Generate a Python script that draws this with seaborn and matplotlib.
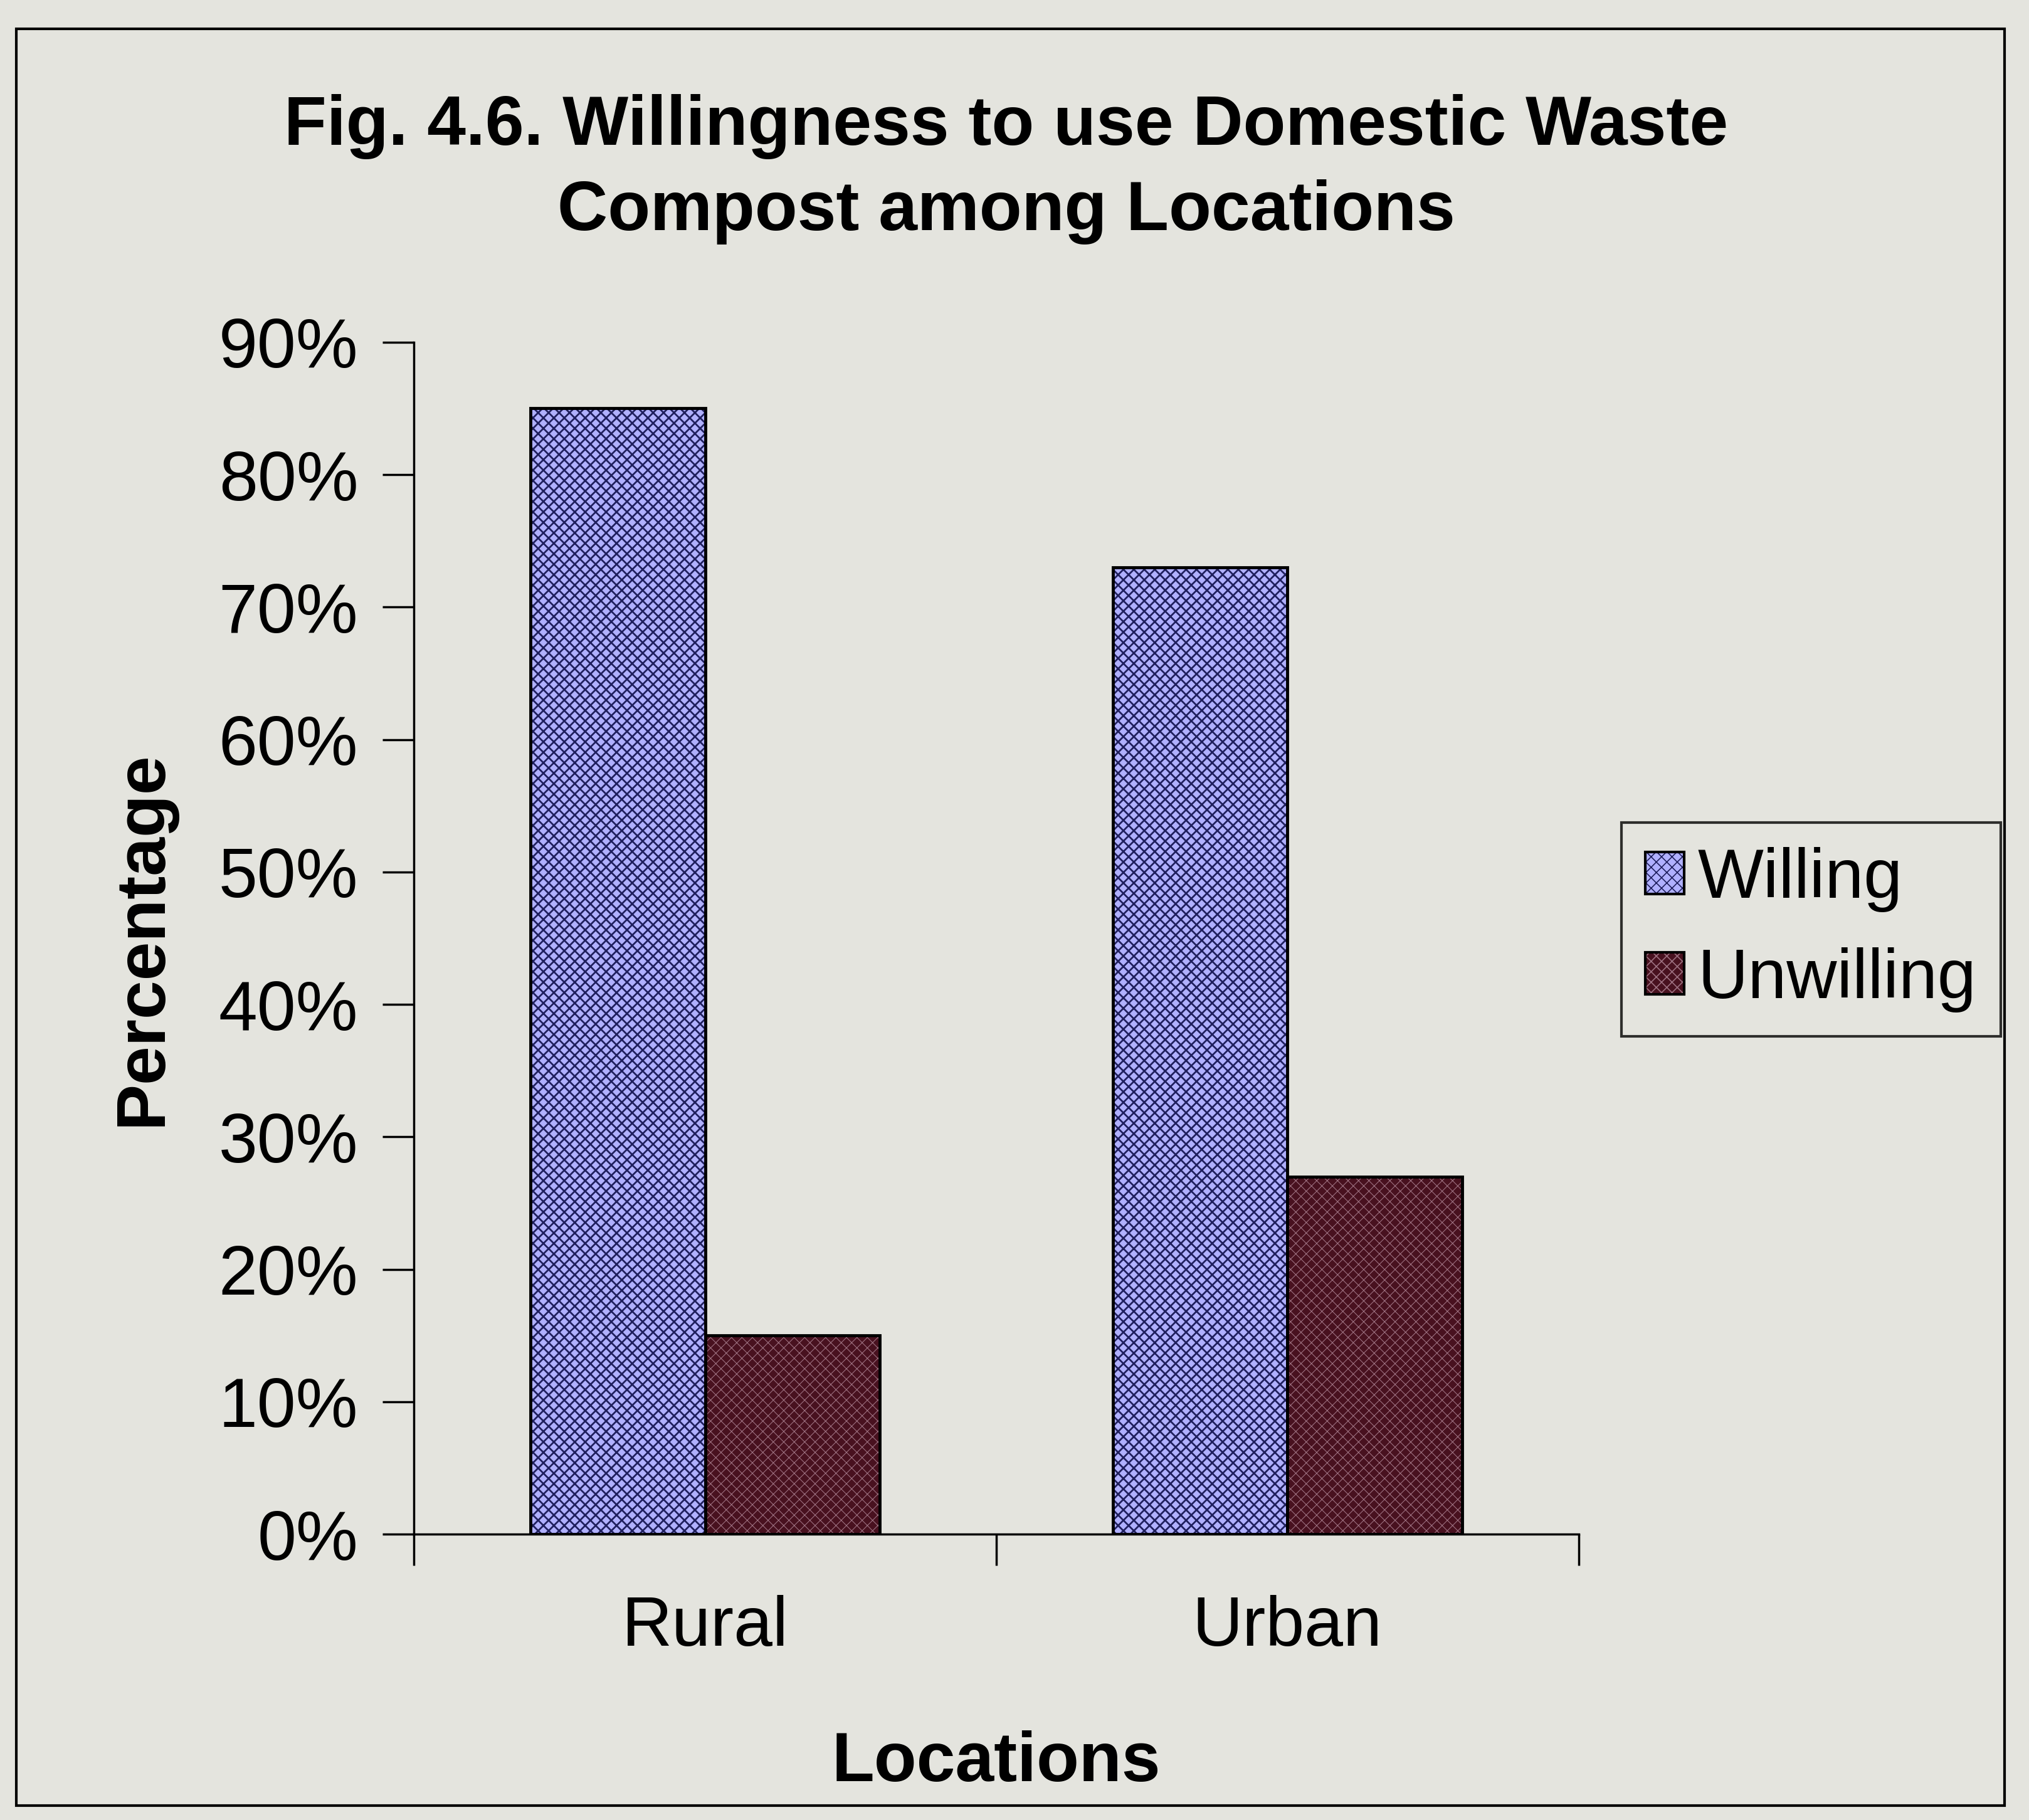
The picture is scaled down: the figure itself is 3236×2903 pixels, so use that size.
import pandas as pd
import numpy as np
import matplotlib
matplotlib.use("Agg")
import matplotlib.pyplot as plt
import matplotlib.patches as mpatches
from matplotlib.ticker import FuncFormatter
import seaborn as sns

locations = ["Rural", "Urban"]
responses = ["Willing", "Unwilling"]
willing = [85, 73]
unwilling = [15, 27]

bar_colors = {"Willing": "#b0b0ff", "Unwilling": "#48111f"}
hatch_colors = {"Willing": "#20205e", "Unwilling": "#9c7080"}
hatch_widths = {"Willing": 2.0, "Unwilling": 0.8}
paper = "#e4e4de"

df = pd.DataFrame({
    "Location": locations * 2,
    "Response": ["Willing"] * 2 + ["Unwilling"] * 2,
    "Percentage": willing + unwilling,
})

sns.set_style("white")
plt.rcParams['font.family'] = ['Liberation Sans', 'DejaVu Sans']
plt.rcParams['hatch.linewidth'] = 1.2
plt.rcParams['text.color'] = 'black'
plt.rcParams['axes.labelcolor'] = 'black'
plt.rcParams['xtick.color'] = 'black'
plt.rcParams['ytick.color'] = 'black'


def style_hatch(patch, resp):
    patch.set_hatch("xx")
    patch._hatch_color = matplotlib.colors.to_rgba(hatch_colors[resp])
    if hasattr(patch, "set_hatch_linewidth"):
        patch.set_hatch_linewidth(hatch_widths[resp])
    else:
        patch._hatch_linewidth = hatch_widths[resp]


fig = plt.figure(figsize=(32.36, 29.03), dpi=100, facecolor=paper)
ax = fig.add_axes([0.204, 0.157, 0.574, 0.655])
ax.set_facecolor(paper)

sns.barplot(data=df, x="Location", y="Percentage", hue="Response",
            hue_order=responses, palette=bar_colors, width=0.6,
            edgecolor="black", linewidth=3.5, saturation=1, legend=False, ax=ax)

for cont, resp in zip(ax.containers, responses):
    for bar in cont:
        style_hatch(bar, resp)

ax.set_xlim(-0.5, 1.5)
ax.set_ylim(0, 90)
ax.set_yticks(np.arange(0, 91, 10))
ax.yaxis.set_major_formatter(FuncFormatter(lambda v, p: f"{v:.0f}%"))
ax.tick_params(axis="y", labelsize=80, length=36, width=2.5, direction="out",
               left=True, pad=28, colors="black")
ax.set_xticks([0, 1])
ax.set_xticklabels(locations)
ax.set_xticks([-0.5, 0.5, 1.5], minor=True)
ax.tick_params(axis="x", which="major", length=0, labelsize=80, pad=70)
ax.tick_params(axis="x", which="minor", length=36, width=2.5, bottom=True)

for s in ["top", "right"]:
    ax.spines[s].set_visible(False)
for s in ["left", "bottom"]:
    ax.spines[s].set_linewidth(2.5)
    ax.spines[s].set_color("black")

ax.set_xlabel("Locations", fontsize=80, fontweight="bold", labelpad=80)
ax.set_ylabel("Percentage", fontsize=80, fontweight="bold", labelpad=50)

fig.text(0.496, 0.907, "Fig. 4.6. Willingness to use Domestic Waste\nCompost among Locations",
         ha="center", va="center", fontsize=80, fontweight="bold", linespacing=1.4)

handles = [mpatches.Patch(facecolor=bar_colors[r], edgecolor="black", linewidth=3,
                          label=r) for r in responses]
for h, r in zip(handles, responses):
    style_hatch(h, r)
leg = fig.legend(handles=handles, loc="upper left", bbox_to_anchor=(0.799, 0.548),
                 borderaxespad=0, fontsize=80, frameon=True, fancybox=False,
                 handlelength=0.55, handleheight=0.55, handletextpad=0.2,
                 borderpad=0.35, labelspacing=0.5, edgecolor="black", facecolor=paper)
leg.get_frame().set_linewidth(3)

fig.patches.append(mpatches.Rectangle((0.008, 0.008), 0.98, 0.976, transform=fig.transFigure,
                                      fill=False, edgecolor="black", linewidth=3))

fig.savefig("out.png", dpi=100, facecolor=paper)
